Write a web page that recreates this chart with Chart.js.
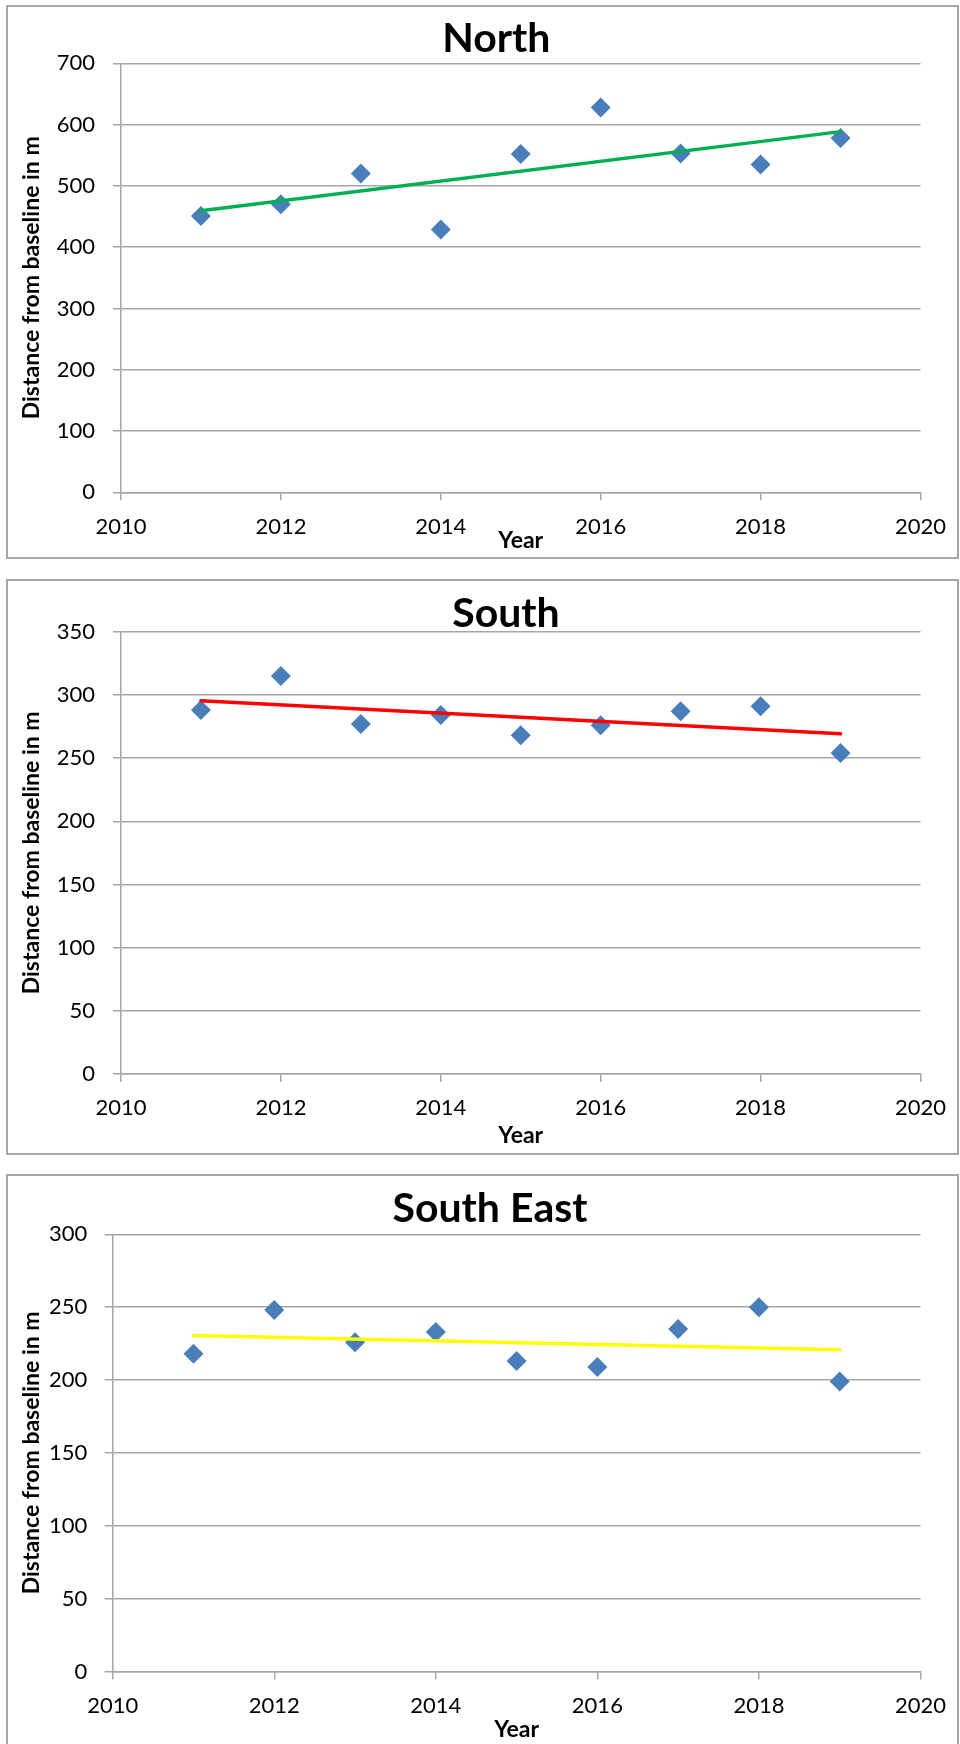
<!DOCTYPE html>
<html>
<head>
<meta charset="utf-8">
<script src="https://cdn.jsdelivr.net/npm/chart.js@4.4.1/dist/chart.umd.min.js"></script>
<style>
  html, body { margin: 0; padding: 0; background: #ffffff; width: 960px; height: 1744px; overflow: hidden; }
  .box { position: absolute; }
  .box canvas { position: absolute; left: 0; top: 0; }
  .frame { position: absolute; left: 0; top: 0; right: 0; bottom: 0; border: 2px solid #a6a6a6; box-sizing: border-box; pointer-events: none; }
</style>
</head>
<body>
<div class="box" id="box-north"><canvas id="c-north"></canvas><div class="frame"></div></div>
<div class="box" id="box-south"><canvas id="c-south"></canvas><div class="frame"></div></div>
<div class="box" id="box-southeast"><canvas id="c-southeast"></canvas><div class="frame"></div></div>
<script>
// ---------------- DATA ----------------
const years = [2011, 2012, 2013, 2014, 2015, 2016, 2017, 2018, 2019];
const northValues = [451, 470, 520, 429, 552, 628, 553, 535, 578];
const southValues = [288, 315, 277, 284, 268, 276, 287, 291, 254];
const southEastValues = [218, 248, 226, 233, 213, 209, 235, 250, 199];

// linear trend lines (end points)
const trendYears = [2011, 2019];
const northTrend = [459.5, 588.5];
const southTrend = [295.3, 269.2];
const southEastTrend = [230.5, 220.7];

// tick labels
const xTickLabels = [2010, 2012, 2014, 2016, 2018, 2020];
const northYTicks = [0, 100, 200, 300, 400, 500, 600, 700];
const southYTicks = [0, 50, 100, 150, 200, 250, 300, 350];
const southEastYTicks = [0, 50, 100, 150, 200, 250, 300];

const titles = ['North', 'South', 'South East'];
const xAxisTitle = 'Year';
const yAxisTitle = 'Distance from baseline in m';

// ---------------- LAYOUT / STYLE ----------------
const frames = [
  { key: 'north', left: 6, top: 5, width: 953, height: 554,
    plotLeft: 115, plotRight: 920, plotTop: 58.3, plotBottom: 487.3,
    titleX: 490.3, titleMid: 34, yTitleX: 25.5, xTitleMid: 535.5, yTickPad: 18 },
  { key: 'south', left: 6, top: 579, width: 953, height: 576,
    plotLeft: 115, plotRight: 920, plotTop: 52.7, plotBottom: 495,
    titleX: 500, titleMid: 34.3, yTitleX: 25.5, xTitleMid: 556.8, yTickPad: 18 },
  { key: 'southeast', left: 6, top: 1174, width: 953, height: 590,
    plotLeft: 106.7, plotRight: 919, plotTop: 60.3, plotBottom: 497.5,
    titleX: 484, titleMid: 35, yTitleX: 25.5, xTitleMid: 556, yTickPad: 17.5 }
];
const leftPad = 34;

const FONT = 'Lato, "Open Sans", "DejaVu Sans", sans-serif';
const gridColor = '#a6a6a6';
const markerColor = '#4a7ebb';
const trendColors = ['#00b050', '#ff0000', '#ffff00'];
const titleSize = 41, titleLH = 0.8;
const tickSize = 22;
const axisTitleSize = 23, axisTitleLH = 1.2;

const valueSets = [northValues, southValues, southEastValues];
const trendSets = [northTrend, southTrend, southEastTrend];
const yTickSets = [northYTicks, southYTicks, southEastYTicks];

frames.forEach((f, i) => {
  const box = document.getElementById('box-' + f.key);
  box.style.left = f.left + 'px';
  box.style.top = f.top + 'px';
  box.style.width = f.width + 'px';
  box.style.height = f.height + 'px';
  const canvas = document.getElementById('c-' + f.key);
  canvas.width = f.width; canvas.height = f.height;
  canvas.style.width = f.width + 'px'; canvas.style.height = f.height + 'px';

  const L = leftPad;
  const spacer = Math.max(0, 2 * f.titleX - f.plotRight - L);  // invisible right box to centre the title
  const R = f.width - f.plotRight - spacer;
  const yAxisWidth = f.plotLeft - L;
  const xAxisHeight = f.height - f.plotBottom;
  const tLH = titleSize * titleLH;
  const titlePadTop = f.titleMid - tLH / 2;
  const titlePadBottom = f.plotTop - f.titleMid - tLH / 2;
  const aLH = axisTitleSize * axisTitleLH;
  const yTitlePad = f.yTitleX - L - aLH / 2;
  const xTitlePad = f.height - f.xTitleMid - aLH / 2;

  const yTicks = yTickSets[i];

  new Chart(canvas, {
    type: 'scatter',
    data: {
      datasets: [
        {
          label: 'Trend',
          data: trendYears.map((x, k) => ({ x: x, y: trendSets[i][k] })),
          showLine: true,
          borderColor: trendColors[i],
          backgroundColor: trendColors[i],
          borderWidth: 3.5,
          pointRadius: 0,
          borderCapStyle: 'round',
          order: 0
        },
        {
          label: titles[i],
          data: years.map((x, k) => ({ x: x, y: valueSets[i][k] })),
          pointStyle: 'rectRot',
          pointRadius: 10,
          pointBorderWidth: 0,
          backgroundColor: markerColor,
          borderColor: markerColor,
          order: 1
        }
      ]
    },
    options: {
      responsive: false,
      animation: false,
      events: [],
      layout: { padding: { left: L, right: R, top: 0, bottom: 0 } },
      plugins: {
        legend: { display: false },
        tooltip: { enabled: false },
        title: {
          display: true,
          text: titles[i],
          color: '#000000',
          font: { family: FONT, size: titleSize, weight: 'bold', lineHeight: titleLH },
          padding: { top: titlePadTop, bottom: titlePadBottom }
        }
      },
      scales: {
        x: {
          type: 'linear',
          position: 'bottom',
          min: xTickLabels[0],
          max: xTickLabels[xTickLabels.length - 1],
          ticks: {
            stepSize: xTickLabels[1] - xTickLabels[0],
            color: '#000000',
            font: { family: FONT, size: tickSize },
            padding: 13,
            maxRotation: 0,
            autoSkip: false,
            callback: (v) => String(v)
          },
          grid: { drawOnChartArea: false, drawTicks: true, tickLength: 8, color: gridColor, lineWidth: 1.5 },
          border: { display: true, color: gridColor, width: 1.5 },
          title: {
            display: true, text: xAxisTitle, color: '#000000',
            font: { family: FONT, size: axisTitleSize, weight: 'bold', lineHeight: axisTitleLH },
            padding: { top: 0, bottom: xTitlePad }
          },
          afterFit: (s) => { s.height = xAxisHeight; }
        },
        y: {
          type: 'linear',
          position: 'left',
          min: yTicks[0],
          max: yTicks[yTicks.length - 1],
          ticks: {
            stepSize: yTicks[1] - yTicks[0],
            color: '#000000',
            font: { family: FONT, size: tickSize },
            padding: f.yTickPad,
            autoSkip: false,
            callback: (v) => String(v)
          },
          grid: { drawOnChartArea: true, drawTicks: true, tickLength: 8, color: gridColor, lineWidth: 1.5 },
          border: { display: true, color: gridColor, width: 1.5 },
          title: {
            display: true, text: yAxisTitle, color: '#000000',
            font: { family: FONT, size: axisTitleSize, weight: 'bold', lineHeight: axisTitleLH },
            padding: { top: yTitlePad, bottom: 0 }
          },
          afterFit: (s) => { s.width = yAxisWidth; }
        },
        spacer: {
          type: 'linear',
          position: 'right',
          display: true,
          ticks: { display: false },
          grid: { display: false, drawTicks: false },
          border: { display: false },
          title: { display: false },
          afterFit: (s) => { s.width = spacer; }
        }
      }
    }
  });
});
</script>
</body>
</html>
